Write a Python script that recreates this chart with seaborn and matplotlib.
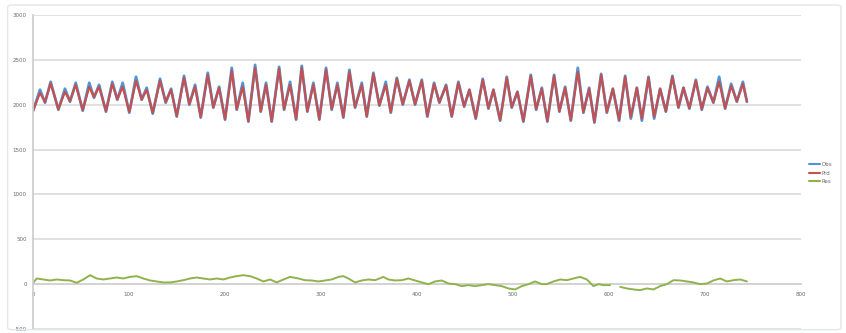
import numpy as np
import pandas as pd
import matplotlib
matplotlib.use("Agg")
import matplotlib.pyplot as plt
from matplotlib.lines import Line2D
from matplotlib.patches import FancyBboxPatch
import seaborn as sns

# ---- data ----
ext_x = [0, 7.3, 12.5, 18.4, 26.4, 33.3, 38.5, 44.5, 51.8, 58.6, 63.5, 68.8, 76.0, 82.6, 87.8,
         93.4, 100.3, 107.3, 113.2, 118.4, 124.7, 132.3, 138.2, 143.8, 149.7, 157.3, 162.8,
         168.8, 174.7, 182.0, 187.8, 193.8, 200.0, 207.0, 212.2, 218.4, 224.3, 231.3, 237.2,
         242.7, 248.6, 256.3, 261.5, 267.7, 274.0, 279.9, 285.7, 292.0, 298.2, 305.2, 311.1,
         317.0, 323.2, 329.5, 335.4, 342.4, 347.6, 354.5, 360.7, 367.4, 372.6, 378.9, 385.1,
         392.0, 397.9, 404.9, 410.7, 417.7, 423.2, 430.2, 436.1, 443.0, 449.0, 454.5, 461.1,
         468.4, 474.3, 479.5, 486.5, 493.4, 498.6, 504.5, 510.7, 518.4, 524.0, 529.9, 535.7,
         542.7, 548.2, 554.2, 560.1, 567.4, 573.2, 579.2, 584.7, 591.7, 597.6, 603.9, 610.4,
         616.7, 622.6, 628.9, 634.1, 641.0, 646.9, 653.1, 659.1, 665.9, 672.2, 677.4, 683.6,
         690.3, 696.5, 702.4, 708.6, 714.6, 720.8, 727.1, 733.0, 739.3, 743.5]

obs_ext = [1930, 2167, 2022, 2255, 1944, 2178, 2033, 2244, 1933, 2244, 2078, 2222, 1922, 2255, 2055,
           2244, 1911, 2311, 2055, 2189, 1900, 2289, 2022, 2178, 1867, 2322, 2000,
           2222, 1856, 2356, 1967, 2200, 1833, 2411, 1944, 2244, 1811, 2444, 1922,
           2244, 1811, 2422, 1944, 2255, 1833, 2433, 1922, 2244, 1833, 2411, 1944,
           2244, 1856, 2389, 1967, 2244, 1867, 2356, 1989, 2255, 1911, 2300, 2000,
           2278, 2000, 2278, 1867, 2244, 2022, 2222, 1867, 2255, 1978, 2167, 1844,
           2289, 1956, 2167, 1822, 2311, 1967, 2144, 1811, 2333, 1944, 2189, 1811,
           2333, 1922, 2200, 1822, 2411, 1911, 2189, 1800, 2344, 1911, 2178, 1822,
           2322, 1845, 2189, 1822, 2311, 1845, 2178, 1922, 2322, 1967, 2189, 1956,
           2278, 1944, 2200, 2022, 2311, 1956, 2233, 2033, 2255, 2033]

prd_ext = [1930, 2133, 2030, 2240, 1950, 2144, 2040, 2222, 1940, 2200, 2085, 2200, 1930, 2233, 2060,
           2200, 1920, 2267, 2060, 2167, 1910, 2267, 2030, 2167, 1875, 2300, 2005,
           2200, 1865, 2333, 1972, 2189, 1840, 2378, 1950, 2200, 1818, 2411, 1928,
           2222, 1818, 2400, 1950, 2222, 1840, 2411, 1928, 2222, 1840, 2389, 1950,
           2222, 1862, 2367, 1972, 2222, 1872, 2344, 1994, 2222, 1916, 2289, 2005,
           2267, 2005, 2267, 1872, 2233, 2027, 2211, 1872, 2244, 1983, 2167, 1850,
           2278, 1961, 2167, 1828, 2300, 1972, 2144, 1818, 2322, 1950, 2178, 1818,
           2322, 1928, 2189, 1828, 2367, 1916, 2178, 1808, 2333, 1916, 2178, 1830,
           2311, 1862, 2189, 1845, 2300, 1865, 2178, 1928, 2311, 1972, 2189, 1961,
           2267, 1950, 2189, 2027, 2255, 1961, 2211, 2038, 2233, 2036]

res_x = [0.3, 3.8, 10.8, 17.7, 24.7, 31.6, 38.5, 45.5, 52.4, 59.4, 66.3, 73.3, 80.2, 87.1, 94.1,
         101.0, 108.0, 114.9, 121.9, 128.8, 135.8, 142.7, 149.7, 156.6, 163.5, 170.5, 177.4,
         184.4, 191.3, 198.3, 205.2, 212.2, 219.1, 226.0, 233.0, 239.9, 246.9, 253.8, 260.8,
         267.7, 276.4, 283.3, 290.3, 297.2, 304.2, 311.1, 318.1, 323.3, 328.5, 335.4, 342.4,
         349.3, 356.3, 364.9, 370.1, 377.1, 384.0, 391.0, 397.9, 404.9, 411.8, 418.8, 425.7,
         432.6, 439.6, 446.6, 453.5, 460.4, 467.4, 474.3, 481.3, 488.2, 495.1, 502.1, 509.1,
         516.0, 522.9, 529.9, 535.1, 542.0, 549.0, 555.9, 562.8, 569.8, 576.8, 583.7, 588.9,
         594.1, 601.0,
         611.5, 618.4, 625.3, 632.3, 639.3, 646.2, 653.1, 660.1, 667.0, 674.0, 680.9, 687.8,
         694.8, 701.8, 708.6, 715.6, 722.6, 729.5, 736.5, 743.5]

res_val = [15, 63, 52, 41, 52, 44, 41, 15, 52, 100, 63, 52, 63, 74, 63,
           81, 89, 63, 41, 30, 19, 19, 30, 44, 63, 74, 63,
           52, 63, 52, 74, 89, 100, 89, 63, 30, 52, 19, 52,
           81, 63, 44, 41, 30, 41, 52, 81, 89, 63, 19, 41,
           52, 44, 81, 52, 41, 44, 63, 41, 19, 0, 30, 41,
           7, 0, -22, -11, -22, -11, 0, -11, -22, -48, -59, -22,
           0, 30, 0, 0, 30, 52, 44, 63, 81, 52, -22, 0,
           -11, -11,
           -30, -48, -59, -67, -48, -59, -22, 0, 44, 41, 30, 19,
           0, 7, 41, 63, 30, 44, 52, 30]

series_names = ["Obs", "Prd", "Res"]
x_ticks = [0, 100, 200, 300, 400, 500, 600, 700, 800]
y_ticks = [-500, 0, 500, 1000, 1500, 2000, 2500, 3000]

# ---- styling ----
c_obs = "#4e96d6"
c_prd = "#c5504f"
c_res = "#8fb34c"
txt = "#6a6a6a"
grid = "#dedede"

sns.set_theme(style="white")
plt.rcParams["font.family"] = ["DejaVu Sans"]

fig = plt.figure(figsize=(8.46, 3.33), dpi=100)
fig.patch.set_facecolor("white")
border = FancyBboxPatch((0.009, 0.01), 0.985, 0.975, boxstyle="round,pad=0,rounding_size=0.006",
                        transform=fig.transFigure, facecolor="none", edgecolor="#e3e6ee",
                        linewidth=1.0)
fig.patches.append(border)

ax = fig.add_axes([0.039, 0.012, 0.908, 0.943])

df_obs = pd.DataFrame({"x": ext_x, "y": obs_ext})
df_prd = pd.DataFrame({"x": ext_x, "y": prd_ext})
df_res = pd.DataFrame({"x": res_x, "y": res_val})

kw = dict(sort=False, estimator=None, solid_joinstyle="round", solid_capstyle="round")
sns.lineplot(data=df_obs, x="x", y="y", ax=ax, color=c_obs, linewidth=2.0, **kw)
sns.lineplot(data=df_prd, x="x", y="y", ax=ax, color=c_prd, linewidth=1.6, **kw)
sns.lineplot(data=df_res[df_res.x < 605], x="x", y="y", ax=ax, color=c_res, linewidth=1.4, **kw)
sns.lineplot(data=df_res[df_res.x > 605], x="x", y="y", ax=ax, color=c_res, linewidth=1.4, **kw)

ax.set_xlim(0, 800)
ax.set_ylim(-500, 3000)
ax.set_xticks(x_ticks)
ax.set_yticks(y_ticks)
ax.set_xlabel("")
ax.set_ylabel("")
ax.set_facecolor("white")

for yv in y_ticks:
    if yv != 0:
        ax.axhline(yv, color=grid, linewidth=1.3, zorder=0)

for s in ["top", "right"]:
    ax.spines[s].set_visible(False)
ax.spines["bottom"].set_position(("data", 0))
ax.spines["bottom"].set_color("#cfcfcf")
ax.spines["bottom"].set_linewidth(1.3)
ax.spines["bottom"].set_zorder(0.5)
ax.spines["left"].set_color("#cfcfcf")
ax.spines["left"].set_linewidth(1.3)

ax.tick_params(axis="both", which="both", labelsize=4, colors=txt, length=2.5, width=0.8,
               direction="out", pad=2)
ax.tick_params(axis="x", color="#cfcfcf", pad=3)
ax.tick_params(axis="y", color="#cfcfcf")

handles = [Line2D([0], [0], color=c_obs, linewidth=1.5),
           Line2D([0], [0], color=c_prd, linewidth=1.5),
           Line2D([0], [0], color=c_res, linewidth=1.5)]
fig.legend(handles, series_names, loc="center left", bbox_to_anchor=(0.953, 0.48),
           frameon=False, fontsize=4, labelcolor=txt, handlelength=2.0, handletextpad=0.3,
           labelspacing=0.6, borderpad=0)

fig.savefig("out.png", dpi=100, facecolor="white")
